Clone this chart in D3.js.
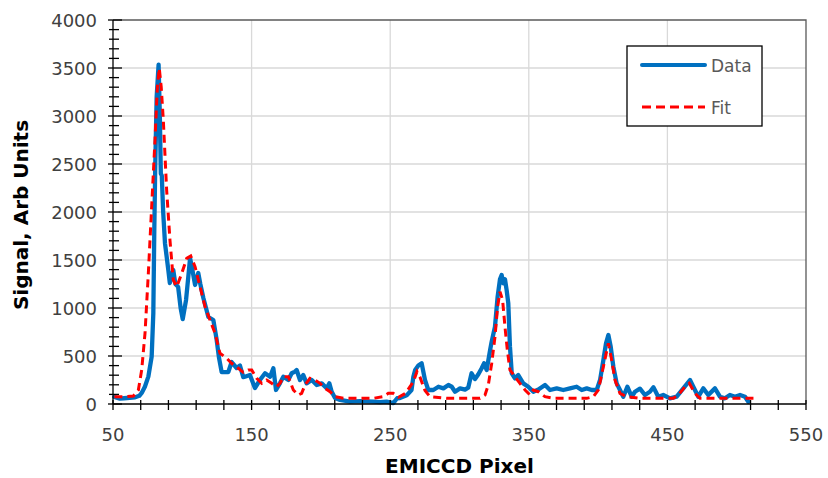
<!DOCTYPE html>
<html>
<head>
<meta charset="utf-8">
<script src="https://d3js.org/d3.v7.min.js"></script>
<style>
  body { margin: 0; background: #fff; }
  svg { display: block; }
</style>
</head>
<body>
<svg id="chart" width="828" height="478"></svg>
<script>
// EMICCD spectrum: measured data and fitted curve

var dataPixel = [51,55,58,62,66,69,70.7,73,75.5,77.9,79.1,79.8,80.5,81.5,82.9,83.8,84.5,85.2,86.2,87.5,89.9,91,93.5,95,97,98.8,100.3,102.7,104.5,105.6,107,109.2,111.5,113,115.2,118.8,122.4,124.8,126.5,128.4,133.2,135.6,139.2,141.6,144,145.2,148.8,152.4,156,159.7,163.3,165.7,167.6,170.5,172.9,176.5,178.9,181.3,182.5,184.9,187.3,189.7,193.4,197,200.6,204.2,206.1,207.8,210.2,213.8,221,228.2,237.8,242.6,247.4,252.2,255,257,261.9,265.4,266.7,268,270.3,272.7,275.1,277.5,281.1,284.8,288.4,292,294.4,296.8,300.4,304,306.3,308.7,311.2,313.6,316,317.7,319.6,322.1,323.2,325.6,327.5,329.2,330.4,331.6,332.8,334,335.2,336.4,337.7,340,342.4,346,349.6,353.3,356.9,361.7,365.3,370.1,374.9,379.7,384.5,388.2,391.8,395.4,399,401.4,403.8,405.7,407.4,409.1,411,413.4,415.8,418.2,421.1,424.2,426.6,430.2,433.8,437.4,439.9,441.5,443.4,447,451.9,456.7,461.5,466.3,468.7,472.3,475.9,479.5,484.3,487.9,491.5,495.1,498.8,502.4,506,508.4];
var dataSignal = [73,55,60,65,70,85,115,180,285,493,950,1810,2500,3200,3535,3000,2400,2380,2000,1675,1396,1260,1396,1250,1220,1000,885,1083,1350,1520,1420,1240,1365,1250,1104,906,875,667,480,333,333,437,375,400,280,284,302,166,250,320,284,372,146,218,284,250,320,337,354,250,302,215,250,198,215,163,215,128,62,42,24,31,24,20,24,10,60,62,90,146,284,354,400,424,250,146,146,180,163,198,180,128,163,150,170,320,260,310,372,424,354,563,650,805,1118,1300,1344,1257,1300,1187,1049,600,320,267,302,215,180,128,150,198,146,163,146,163,180,146,163,146,146,250,458,632,719,597,389,215,146,76,180,76,128,160,94,128,174,130,76,94,59,76,163,250,180,76,163,94,163,76,59,94,76,94,76,24];

var fitPixel = [51,58,64.7,68.3,70.7,73.1,75.5,77.9,80.3,82,83.4,84.8,86.3,88.7,91.1,93.5,96,99.6,103.2,106.1,109.2,112.8,116.4,120,123.6,127.2,132,135.6,140.4,144,147.6,150.1,153.7,157.3,160.9,164.5,168.1,170.5,172.9,176.5,180.1,183.7,186.1,188.5,192.1,195.7,199.4,203,206.6,210.2,216.2,225.8,237.8,245,248.6,252.2,256,261,264.3,266.7,269.3,271.5,275.1,278.7,290.7,305.1,314.8,318.4,320.8,323.2,325.6,327.5,329.2,331.1,332.8,334.5,336.4,340,343.6,347.3,350.9,353.3,356.9,361.7,367.7,391.8,396.6,400.2,403.8,407.4,409.8,412.2,415.8,420.6,430,454.3,457.9,462.7,465.8,469.9,473.5,514.4];
var fitSignal = [76,76,83,146,354,737,1361,2055,2750,3300,3497,3300,2958,2229,1708,1292,1222,1361,1517,1542,1430,1222,1014,875,737,528,476,424,372,330,354,354,267,215,250,215,180,215,284,284,146,94,111,198,267,250,215,163,128,76,59,59,59,76,111,111,70,111,180,232,337,280,140,76,59,59,59,94,200,420,700,1014,1170,1083,805,563,354,284,215,146,94,146,128,76,59,59,76,146,389,632,458,250,111,76,59,59,94,180,215,111,59,59];

var xTickLabels = [50, 150, 250, 350, 450, 550];
var yTickLabels = [0, 500, 1000, 1500, 2000, 2500, 3000, 3500, 4000];
var seriesNames = ["Data", "Fit"];

var margin = { left: 113, right: 22, top: 20, bottom: 74 };
var width = 828, height = 478;

var svg = d3.select("#chart");
var x = d3.scaleLinear().domain([50, 550]).range([margin.left, width - margin.right]);
var y = d3.scaleLinear().domain([0, 4000]).range([height - margin.bottom, margin.top]);

var tickFont = "DejaVu Sans, sans-serif";

// gridlines
var grid = svg.append("g");
grid.selectAll("line.gx")
  .data(d3.range(150, 550, 100))
  .enter().append("line")
  .attr("x1", d => x(d)).attr("x2", d => x(d))
  .attr("y1", y(0)).attr("y2", y(4000))
  .attr("stroke", "#d9d9d9").attr("stroke-width", 1.3);
grid.selectAll("line.gy")
  .data(d3.range(500, 4000, 500))
  .enter().append("line")
  .attr("x1", x(50)).attr("x2", x(550))
  .attr("y1", d => y(d)).attr("y2", d => y(d))
  .attr("stroke", "#d9d9d9").attr("stroke-width", 1.3);

// frame (top and right)
svg.append("path")
  .attr("d", `M${x(50)},${y(4000)}H${x(550)}V${y(0)}`)
  .attr("fill", "none").attr("stroke", "#595959").attr("stroke-width", 1.3);

// lines
var line = d3.line().x(d => x(d[0])).y(d => y(d[1]));

svg.append("path")
  .datum(dataPixel.map((p, i) => [p, dataSignal[i]]))
  .attr("d", line)
  .attr("fill", "none")
  .attr("stroke", "#0070c0")
  .attr("stroke-width", 4.3)
  .attr("stroke-linejoin", "round")
  .attr("stroke-linecap", "round");

svg.append("path")
  .datum(fitPixel.map((p, i) => [p, fitSignal[i]]))
  .attr("d", line)
  .attr("fill", "none")
  .attr("stroke", "#ff0000")
  .attr("stroke-width", 3)
  .attr("stroke-dasharray", "8,5");

// x axis
var xAxis = svg.append("g").attr("transform", `translate(0,${y(0)})`);
xAxis.append("line")
  .attr("x1", x(50)).attr("x2", x(550))
  .attr("stroke", "#000").attr("stroke-width", 1.3);
xAxis.selectAll("line.tick")
  .data(d3.range(50, 551, 20))
  .enter().append("line")
  .attr("x1", d => x(d)).attr("x2", d => x(d))
  .attr("y1", -4).attr("y2", 6)
  .attr("stroke", "#000").attr("stroke-width", 1.3);
xAxis.selectAll("text")
  .data(xTickLabels)
  .enter().append("text")
  .attr("x", d => x(d))
  .attr("y", 37)
  .attr("text-anchor", "middle")
  .style("font-family", tickFont)
  .style("font-size", "18px")
  .style("fill", "#404040")
  .text(d => d);

// y axis
var yAxis = svg.append("g").attr("transform", `translate(${x(50)},0)`);
yAxis.append("line")
  .attr("y1", y(0)).attr("y2", y(4000))
  .attr("stroke", "#000").attr("stroke-width", 1.3);
yAxis.selectAll("line.tick")
  .data(d3.range(0, 4001, 100))
  .enter().append("line")
  .attr("x1", d => d % 500 === 0 ? -5 : -4)
  .attr("x2", d => d % 500 === 0 ? 9 : 6)
  .attr("y1", d => y(d)).attr("y2", d => y(d))
  .attr("stroke", "#000").attr("stroke-width", 1.3);
yAxis.selectAll("text")
  .data(yTickLabels)
  .enter().append("text")
  .attr("x", -16)
  .attr("y", d => y(d) + 6.5)
  .attr("text-anchor", "end")
  .style("font-family", tickFont)
  .style("font-size", "18px")
  .style("fill", "#404040")
  .text(d => d);

// axis titles
svg.append("text")
  .attr("x", (x(50) + x(550)) / 2)
  .attr("y", 473)
  .attr("text-anchor", "middle")
  .style("font-family", tickFont)
  .style("font-weight", "bold")
  .style("font-size", "20px")
  .text("EMICCD Pixel");

svg.append("text")
  .attr("transform", `translate(28,${(y(0) + y(4000)) / 2 + 3}) rotate(-90)`)
  .attr("text-anchor", "middle")
  .style("font-family", tickFont)
  .style("font-weight", "bold")
  .style("font-size", "20px")
  .text("Signal, Arb Units");

// legend
var legend = svg.append("g");
legend.append("rect")
  .attr("x", 627).attr("y", 46)
  .attr("width", 135).attr("height", 80)
  .attr("fill", "#fff").attr("stroke", "#000").attr("stroke-width", 1.3);

var legendStyles = [
  { color: "#0070c0", width: 4, dash: null, cap: "round" },
  { color: "#ff0000", width: 3, dash: "9,5", cap: "butt" }
];
seriesNames.forEach((name, i) => {
  var ly = 65 + i * 42;
  legend.append("line")
    .attr("x1", 642).attr("x2", 705)
    .attr("y1", ly).attr("y2", ly)
    .attr("stroke", legendStyles[i].color)
    .attr("stroke-width", legendStyles[i].width)
    .attr("stroke-dasharray", legendStyles[i].dash)
    .attr("stroke-linecap", legendStyles[i].cap);
  legend.append("text")
    .attr("x", 711).attr("y", ly + 7)
    .style("font-family", tickFont)
    .style("font-size", "17px")
    .style("fill", "#595959")
    .text(name);
});
</script>
</body>
</html>
